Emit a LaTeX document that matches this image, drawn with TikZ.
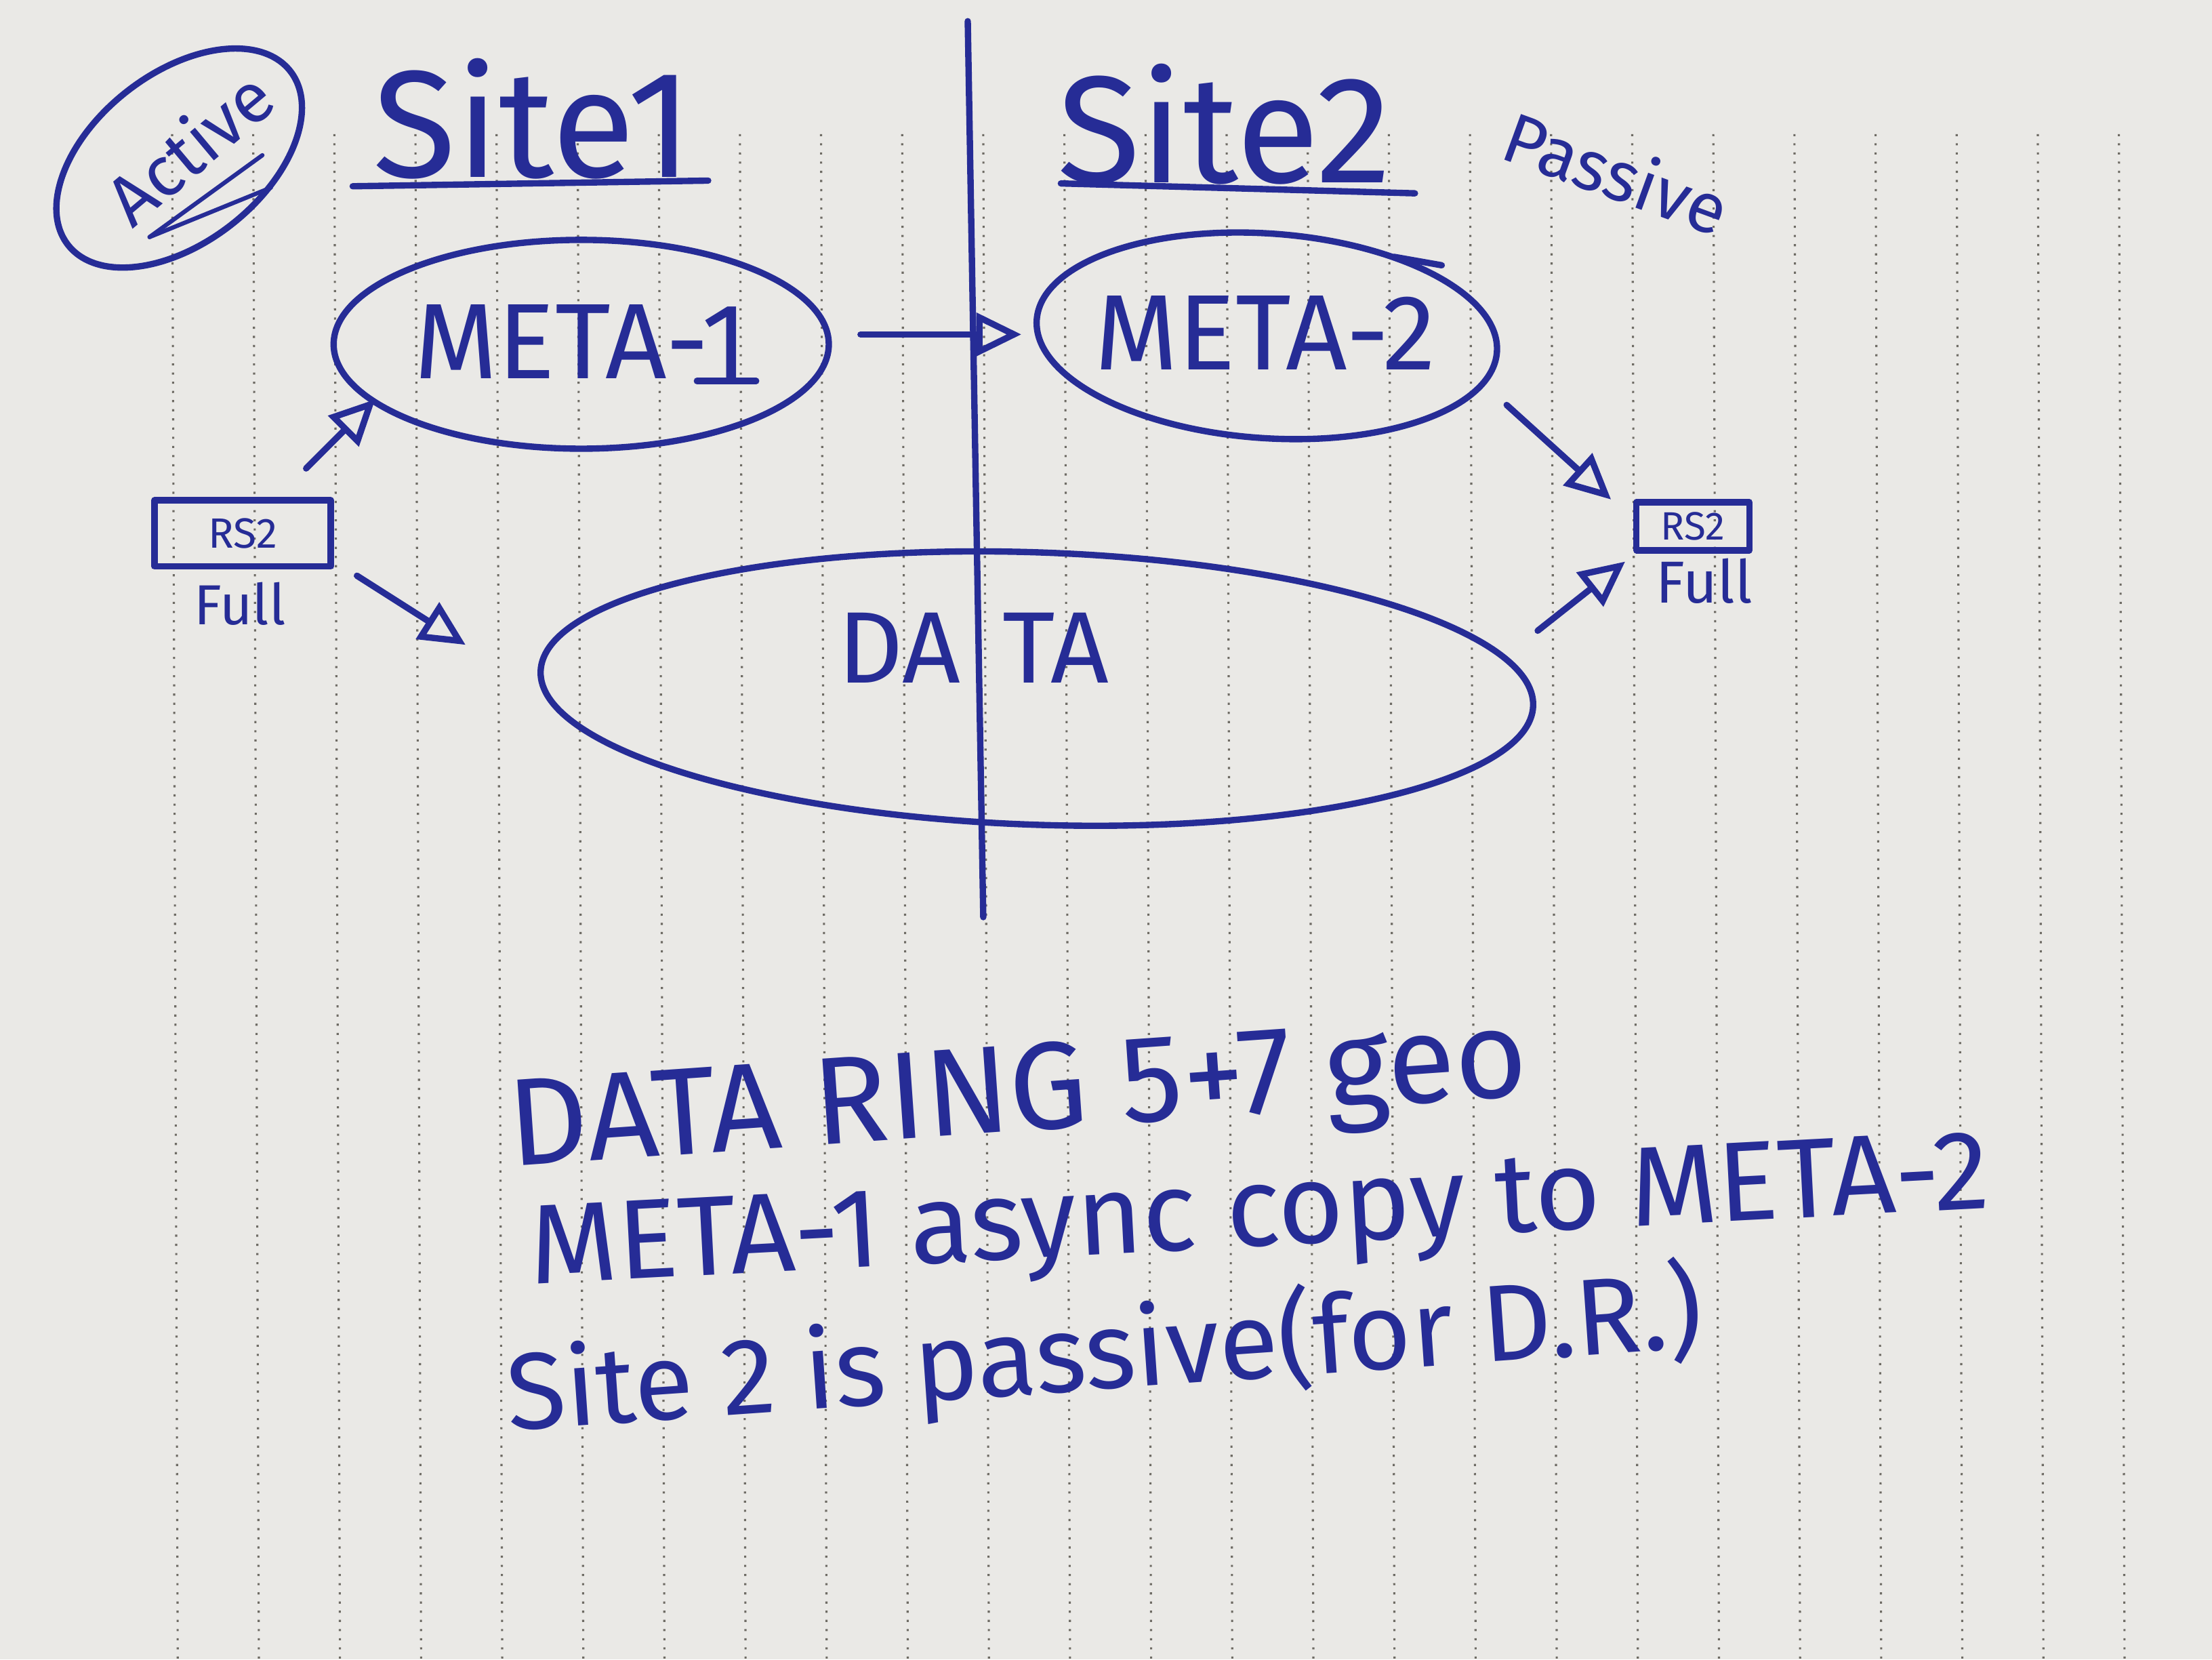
\documentclass[tikz,border=0pt]{standalone}
\usepackage{fontspec}
\setmainfont{Fira Sans}
\usetikzlibrary{shapes.geometric,arrows.meta}
\definecolor{ink}{RGB}{38,44,150}
\definecolor{paper}{RGB}{234,233,230}
\definecolor{rulecol}{RGB}{110,107,100}
\tikzset{
 pen/.style={draw=ink, line width=4.5pt, line cap=round, line join=round},
 hand/.style={text=ink, inner sep=0pt},
 oval/.style={pen, ellipse, inner sep=0pt},
 arr/.style={pen, -{Triangle[open, length=32pt, width=30pt, line width=4.5pt]}},
 boxstyle/.style={pen, rectangle, inner sep=0pt},
 ruling/.style={draw=rulecol, line width=1.5pt, dash pattern=on 1.5pt off 5pt},
}
\newcommand{\hsz}[1]{\fontsize{#1}{#1}\selectfont}
\begin{document}
\begin{tikzpicture}[x=1pt,y=-1pt]
\useasboundingbox (0,0) rectangle (1568,1176);
\fill[paper] (0,0) rectangle (1568,1176);
% ruled paper
\foreach \k in {0,...,24} \draw[ruling] ({122+57.5*\k},95) -- ({126+57.5*\k},1176);

% divider
\coordinate (vtop) at (686,15);
\coordinate (vbot) at (697,650);
\draw[pen] (vtop) -- (vbot);

% Active
\node[oval, rotate=38, minimum width=200, minimum height=120] (active) at (127,112) {};
\node[hand, rotate=40, font=\hsz{50}] (activet) at (134,104) {Active};
\draw[pen, line width=3pt] (106,168) -- (186,110);
\draw[pen, line width=3pt] (106,168) -- (192,133);

% site headings
\node[hand, font=\hsz{108}] (site1) at (378,84) {Site1};
\draw[pen] (250,132) -- (502,128);
\node[hand, font=\hsz{108}] (site2) at (868,88) {Site2};
\draw[pen] (752,130) -- (1003,137);
\node[hand, rotate=-20, font=\hsz{50}] (passive) at (1146,122) {Passive};

% META nodes
\node[oval, minimum width=351, minimum height=148] (m1) at (412,244) {};
\node[hand, font=\hsz{76}] (m1t) at (412,242) {META-1};
\draw[pen] (494,270) -- (536,270);
\node[oval, rotate=-4, minimum width=327, minimum height=145] (m2) at (898,238) {};
\node[hand, font=\hsz{76}] (m2t) at (897,236) {META-2};
\draw[pen] (988,182) -- (1022,188);

% DATA
\node[oval, rotate=-2, minimum width=704, minimum height=193] (data) at (735,488) {};
\node[hand, font=\hsz{72}] (datat) at (690,459) {DA\hspace{30pt}TA};

% RS2 boxes
\node[boxstyle, minimum width=125, minimum height=47, font=\hsz{30}, text=ink] (rs2l) at (172,378) {RS2};
\node[hand, font=\hsz{40}] (fulll) at (170,428) {Full};
\node[boxstyle, minimum width=80, minimum height=34, font=\hsz{28}, text=ink] (rs2r) at (1200,373) {RS2};
\node[hand, font=\hsz{42}] (fullr) at (1208,412) {Full};

% arrows
\coordinate (a0s) at (610,237); \coordinate (a0e) at (724,237);
\draw[arr] (a0s) -- (a0e);
\coordinate (a1s) at (217,332); \coordinate (a1e) at (266,283);
\draw[arr] (a1s) -- (a1e);
\coordinate (a2s) at (253,408); \coordinate (a2e) at (330,457);
\draw[arr] (a2s) -- (a2e);
\coordinate (a3s) at (1068,287); \coordinate (a3e) at (1142,354);
\draw[arr] (a3s) -- (a3e);
\coordinate (a4s) at (1090,447); \coordinate (a4e) at (1152,398);
\draw[arr] (a4s) -- (a4e);

% notes
\node[hand, rotate=4, font=\hsz{88}] (n1) at (722,780) {DATA RING 5+7 geo};
\node[hand, rotate=3, font=\hsz{80}] (n2) at (893,864) {META-1 async copy to META-2};
\node[hand, rotate=4, font=\hsz{77}] (n3) at (783,960) {Site 2 is passive(for D.R.)};
\end{tikzpicture}
\end{document}
